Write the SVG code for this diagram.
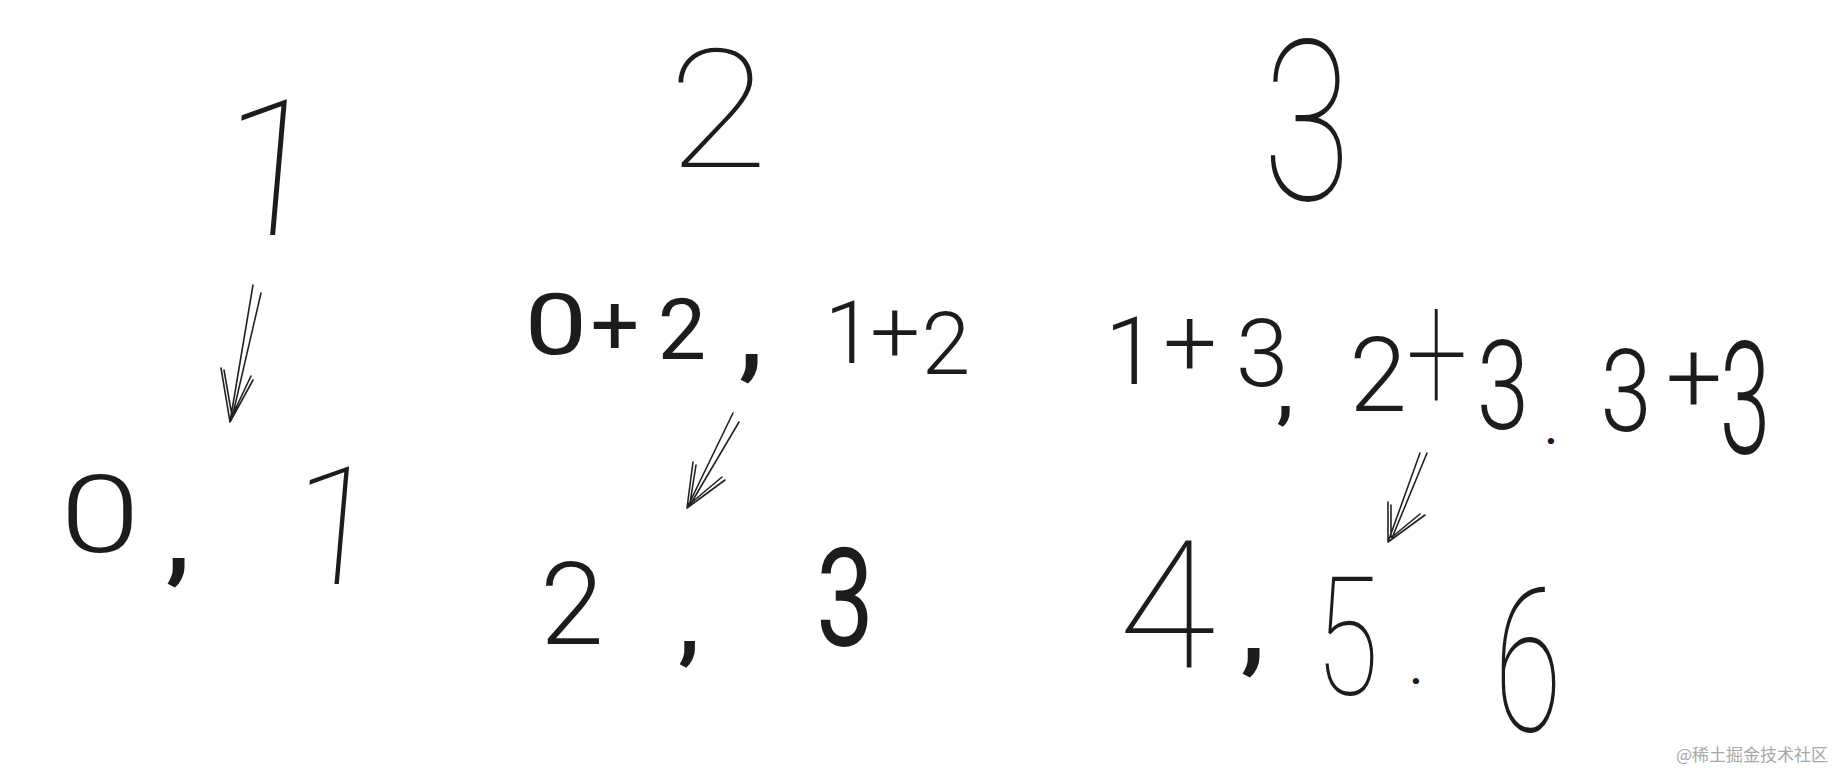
<svg xmlns="http://www.w3.org/2000/svg" width="1843" height="771" viewBox="0 0 1843 771">
<style>
text{font-family:Roboto,"Liberation Sans","Noto Sans CJK SC",sans-serif;fill:#1c1c1c;text-anchor:middle}
.t{font-weight:100}
.m{font-weight:300}
.b{font-weight:400}
.p{font-weight:700}
.sk{stroke:#222;stroke-width:1.6;fill:none;stroke-linecap:round}
.wm{font-family:"Noto Sans CJK SC","Liberation Sans",sans-serif;fill:#a8a8a8;font-size:17px;text-anchor:start}
</style>
<rect width="1843" height="771" fill="#fff"/>
<g id="col1-head"><text class="t" font-size="190" transform="translate(266 235) skewX(-5)">1</text></g>
<g id="col2-head"><text class="t" x="718" y="167" font-size="166" transform="translate(718 0) scale(1.1 1) translate(-718 0)">2</text></g>
<g id="col3-head"><text class="t" font-size="224" transform="translate(1307 200) scale(0.72 1)">3</text></g>
<g id="col2-sum">
<text class="b" font-size="86" transform="translate(556 354) scale(1.3 1)">0</text>
<text class="b" font-size="86" x="615" y="354">+</text>
<text class="b" font-size="86" x="682" y="359">2</text>
<text class="p" font-size="100" x="751" y="366">,</text>
<text class="m" font-size="88" x="849" y="363">1</text>
<text class="m" font-size="88" x="895" y="362">+</text>
<text class="m" font-size="88" x="946" y="374">2</text>
</g>
<g id="col3-sum">
<text class="m" font-size="95" x="1131" y="384">1</text>
<text class="m" font-size="95" x="1190" y="375">+</text>
<text class="m" font-size="95" x="1262" y="386">3</text>
<text class="p" font-size="70" x="1285" y="414">,</text>
<text class="m" font-size="104" x="1378" y="411">2</text>
<text class="t" font-size="176" transform="translate(1437 413) scale(0.62 1)">+</text>
<text class="m" font-size="124" transform="translate(1503 429) scale(0.76 1)">3</text>
<text class="p" font-size="40" x="1551" y="444">.</text>
<text class="m" font-size="115" transform="translate(1626 431) scale(0.8 1)">3</text>
<text class="m" font-size="100" x="1694" y="412">+</text>
<text class="m" font-size="157" transform="translate(1745 453) scale(0.58 1)">3</text>
</g>
<g id="col1-result">
<text class="m" font-size="107" transform="translate(100 552) scale(1.35 1)">0</text>
<text class="p" font-size="100" x="178" y="570">,</text>
<text class="t" font-size="165" transform="translate(331 584) skewX(-5)">1</text>
</g>
<g id="col2-result">
<text class="m" font-size="115" x="572" y="644">2</text>
<text class="p" font-size="90" x="689" y="652">,</text>
<text class="b" font-size="138" transform="translate(845 646) scale(0.75 1)">3</text>
</g>
<g id="col3-result">
<text class="t" font-size="178" x="1167" y="668">4</text>
<text class="p" font-size="100" x="1253" y="660">,</text>
<text class="t" font-size="166" transform="translate(1347 694) scale(0.7 1)">5</text>
<text class="p" font-size="40" x="1416" y="684">.</text>
<text class="t" font-size="200" transform="translate(1528 731) scale(0.62 1)">6</text>
</g>
<g id="connectors">
<path class="sk" d="M253 285 L230 422 M261 293 L232 418 M221 368 L230 422 M224 370 L232 416 M253 380 L230 422 M251 376 L233 414"/>
<path class="sk" d="M733 413 L687 508 M739 422 L690 505 M693 462 L687 508 M696 465 L690 503 M725 480 L687 508 M722 477 L691 503"/>
<path class="sk" d="M1420 453 L1388 542 M1427 453 L1392 538 M1388 502 L1388 542 M1391 505 L1391 537 M1425 515 L1388 542 M1420 514 L1392 537"/>
</g>
<text class="wm" x="1676" y="761">@稀土掘金技术社区</text>
</svg>
